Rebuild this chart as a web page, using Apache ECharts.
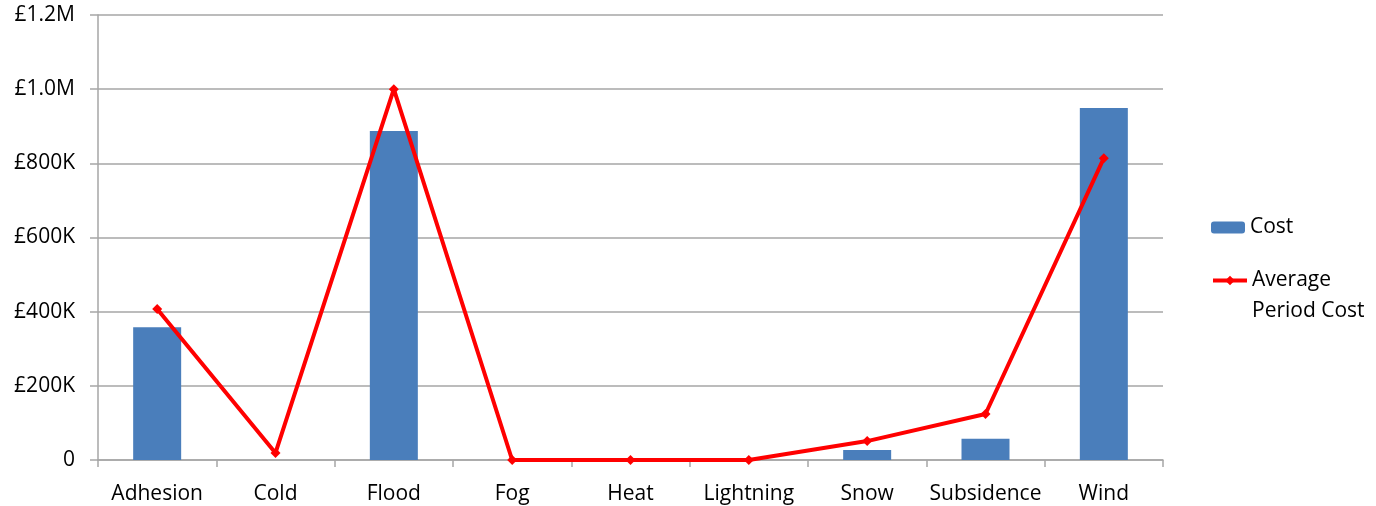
<!DOCTYPE html>
<html>
<head>
<meta charset="utf-8">
<script src="https://cdn.jsdelivr.net/npm/echarts@6/dist/echarts.min.js"></script>
<style>
html,body{margin:0;padding:0;background:#fff;}
#c{width:1376px;height:506px;}
</style>
</head>
<body>
<div id="c"></div>
<script>
const categories = ['Adhesion','Cold','Flood','Fog','Heat','Lightning','Snow','Subsidence','Wind'];
const costValues = [358000, 0, 887000, 0, 0, 0, 27000, 57000, 949000];
const avgPeriodCost = [407000, 19000, 1000000, 0, 0, 0, 51000, 124000, 814000];
const yTicks = [0, 200000, 400000, 600000, 800000, 1000000, 1200000];

const FONT = 'Open Sans';
const TXT = '#000000';
const chart = echarts.init(document.getElementById('c'));
function fmt(v){
  if (v === 0) return '0';
  if (v >= 1000000) return '£' + (v/1000000).toFixed(1) + 'M';
  return '£' + (v/1000) + 'K';
}
chart.setOption({
  animation: false,
  textStyle: {fontFamily: FONT},
  grid: {left: 98, right: 213, top: 15, bottom: 46, containLabel: false},
  legend: [
    {
      orient: 'vertical',
      left: 1206,
      top: 207,
      itemWidth: 34,
      itemHeight: 12,
      textStyle: {fontFamily: FONT, fontSize: 21, color: TXT, lineHeight: 31},
      data: ['Cost']
    },
    {
      orient: 'vertical',
      left: 1206,
      top: 229,
      itemWidth: 34,
      itemHeight: 12,
      lineStyle: {width: 4, color: '#ff0000'},
      textStyle: {fontFamily: FONT, fontSize: 21, color: TXT, lineHeight: 31},
      formatter: function(n){ return '\nAverage\nPeriod Cost'; },
      data: ['Average Period Cost']
    }
  ],
  xAxis: {
    type: 'category',
    data: categories,
    axisLine: {lineStyle: {color: '#a6a6a6', width: 1.5}},
    axisTick: {show: true, length: 7, alignWithLabel: false, lineStyle: {color: '#a6a6a6', width: 1.5}},
    axisLabel: {fontFamily: FONT, fontSize: 21, color: TXT, margin: 24, interval: 0}
  },
  yAxis: {
    type: 'value',
    min: yTicks[0],
    max: yTicks[yTicks.length-1],
    interval: yTicks[1] - yTicks[0],
    axisLine: {show: true, lineStyle: {color: '#a6a6a6', width: 1.5}},
    axisTick: {show: true, length: 8, lineStyle: {color: '#a6a6a6', width: 1.5}},
    splitLine: {lineStyle: {color: '#a6a6a6', width: 1.5}},
    axisLabel: {fontFamily: FONT, fontSize: 21, color: TXT, margin: 23, formatter: fmt}
  },
  series: [
    {
      name: 'Cost',
      type: 'bar',
      data: costValues,
      barWidth: 48,
      itemStyle: {color: '#4a7ebb'}
    },
    {
      name: 'Average Period Cost',
      type: 'line',
      data: avgPeriodCost,
      symbol: 'diamond',
      symbolSize: 10,
      z: 5,
      lineStyle: {color: '#ff0000', width: 4},
      itemStyle: {color: '#ff0000'}
    }
  ]
});
</script>
</body>
</html>
